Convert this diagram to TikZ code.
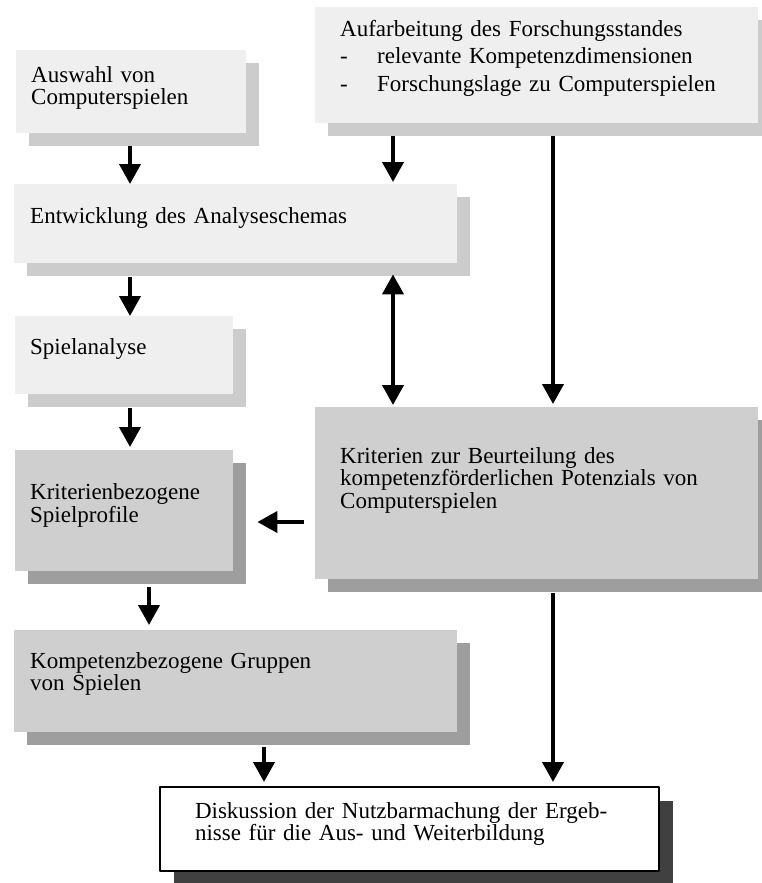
\documentclass[tikz,border=0pt]{standalone}
\usepackage{fontspec}
\setmainfont{Liberation Serif}
\usetikzlibrary{arrows.meta,shadows}
\definecolor{boxlight}{gray}{0.937}
\definecolor{boxdark}{gray}{0.81}
\definecolor{shadelight}{gray}{0.80}
\definecolor{shadedark}{gray}{0.62}
\definecolor{shadeblack}{gray}{0.25}
\tikzset{
  stepbox/.style={rectangle,anchor=north west,inner xsep=15pt,inner ysep=0pt,
    align=left,font=\fontsize{23}{22}\selectfont},
  lightbox/.style={stepbox,fill=boxlight,
    drop shadow={shadow xshift=13pt,shadow yshift=-13pt,fill=shadelight,opacity=1}},
  darkbox/.style={stepbox,fill=boxdark,
    drop shadow={shadow xshift=13pt,shadow yshift=-13pt,fill=shadedark,opacity=1}},
  endbox/.style={stepbox,fill=white,draw=black,line width=2pt,
    drop shadow={shadow xshift=14pt,shadow yshift=-14pt,fill=shadeblack,opacity=1}},
  flow/.style={line width=4pt},
}
\begin{document}
\begin{tikzpicture}[>={Triangle[width=21pt,length=20pt]},x=1pt,y=-1pt,line join=bevel]
\useasboundingbox (0,0) rectangle (762,883);
%%
\node (auswahl) at (16,50) [lightbox,text width=200pt,text height=32pt,text depth=51pt] {Auswahl von\\Computerspielen};
  \node (stand) at (315,7) [lightbox,inner xsep=25pt,text width=393pt,text height=29pt,text depth=87pt,
    font=\fontsize{23}{27.5}\selectfont] {Aufarbeitung des Forschungsstandes\\
    \makebox[37pt][l]{-}relevante Kompetenzdimensionen\\
    \makebox[37pt][l]{-}Forschungslage zu Computerspielen};
  \node (schema) at (14,184) [lightbox,inner xsep=16pt,text width=411pt,text height=39pt,text depth=40pt] {Entwicklung des Analyseschemas};
  \node (analyse) at (15,316) [lightbox,text width=188pt,text height=38pt,text depth=40pt] {Spielanalyse};
  \node (profile) at (15,450) [darkbox,text width=188pt,text height=49pt,text depth=72pt,
    font=\fontsize{23}{23}\selectfont] {Kriterienbezogene\\Spielprofile};
  \node (kriterien) at (315,407) [darkbox,inner xsep=25pt,text width=393pt,text height=56pt,text depth=116pt,
    font=\fontsize{23}{22.5}\selectfont] {Kriterien zur Beurteilung des\\kompetenzf\"orderlichen Potenzials von\\Computerspielen};
  \node (gruppen) at (14,630) [darkbox,inner xsep=16pt,text width=411pt,text height=38pt,text depth=64pt] {Kompetenzbezogene Gruppen\\von Spielen};
  \node (diskussion) at (159,786) [endbox,inner xsep=35pt,text width=429pt,text height=31pt,text depth=53pt,
    font=\fontsize{23}{19.5}\selectfont] {Diskussion der Nutzbarmachung der Ergeb-\\nisse f\"ur die Aus- und Weiterbildung};
%
  \coordinate (left_col) at (130,0);
  \coordinate (low_col) at (149,0);
  \coordinate (end_col) at (264,0);
  \coordinate (mid_col) at (393,0);
  \coordinate (right_col) at (553,0);
  \coordinate (side_row) at (0,522);
%
  \draw [flow,->] ([yshift=-13pt]auswahl.south -| left_col) -- (schema.north -| left_col);
  \draw [flow,->] ([yshift=-13pt]stand.south -| mid_col) -- ([yshift=2pt]schema.north -| mid_col);
  \draw [flow,->] ([yshift=-13pt]stand.south -| right_col) -- ([yshift=3pt]kriterien.north -| right_col);
  \draw [flow,->] ([yshift=-14pt]schema.south -| left_col) -- (analyse.north -| left_col);
  \draw [flow,<->] ([yshift=-11pt]schema.south -| mid_col) -- ([yshift=2pt]kriterien.north -| mid_col);
  \draw [flow,->] ([yshift=-14pt]analyse.south -| left_col) -- ([yshift=3pt]profile.north -| left_col);
  \draw [flow,->] ([xshift=-11pt]kriterien.west |- side_row) -- ([xshift=24pt]profile.east |- side_row);
  \draw [flow,->] ([yshift=-16pt]profile.south -| low_col) -- ([yshift=5pt]gruppen.north -| low_col);
  \draw [flow,->] ([yshift=-15pt]gruppen.south -| end_col) -- ([yshift=4pt]diskussion.north -| end_col);
  \draw [flow,->] ([yshift=-14pt]kriterien.south -| right_col) -- ([yshift=4pt]diskussion.north -| right_col);
%
\end{tikzpicture}
\end{document}
